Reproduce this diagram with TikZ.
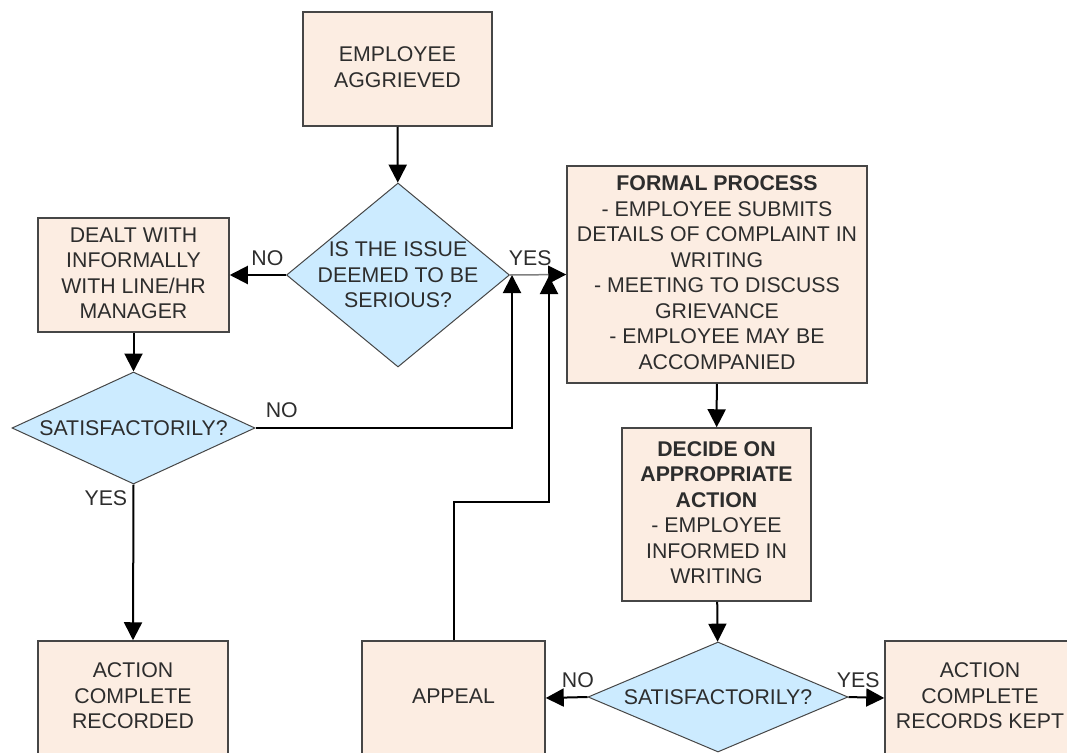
\documentclass[tikz,border=0pt]{standalone}
\usepackage{fontspec}
\setmainfont{Liberation Sans}
\usetikzlibrary{shapes.geometric,arrows.meta}

\definecolor{boxfill}{RGB}{252,237,226}
\definecolor{decfill}{RGB}{204,235,255}
\definecolor{edgegray}{RGB}{70,70,70}
\definecolor{txtgray}{RGB}{45,45,45}
\newcommand\chartfont{\fontsize{21.3}{25.5}\selectfont}

\begin{document}
\begin{tikzpicture}[x=1pt,y=-1pt,
    every node/.style={font=\chartfont,text=txtgray},
    box/.style={draw=edgegray,line width=1.5pt,fill=boxfill,align=center,inner sep=0pt,text depth=4pt},
    decision/.style={draw=edgegray,line width=1pt,fill=decfill,shape=diamond,inner sep=0pt},
    qtext/.style={align=center,inner sep=0pt},
    flow/.style={line width=2pt,-{Triangle[length=18pt,width=18pt]}},
    yesline/.style={line width=1.5pt,gray,-{Triangle[length=18pt,width=18pt,black]}},
    lbl/.style={text=txtgray}]
    \useasboundingbox (0,0) rectangle (1067,752);
    \clip (0,0) rectangle (1067,752);

    % Boxes and decisions
    \node[box, minimum width=189pt, minimum height=114pt] (aggr) at (397.5,69) {EMPLOYEE\\AGGRIEVED};
    \node[decision, minimum width=223pt, minimum height=184pt,
          label={[qtext]center:{IS THE ISSUE\\DEEMED TO BE\\SERIOUS?}}] (q1) at (398,275) {};
    \node[box, minimum width=191pt, minimum height=114pt] (dealt) at (133.5,275) {DEALT WITH\\INFORMALLY\\WITH LINE/HR\\MANAGER};
    \node[decision, minimum width=243pt, minimum height=112pt,
          label={[qtext]center:SATISFACTORILY?}] (q2) at (133.5,428) {};
    \node[box, minimum width=300pt, minimum height=217pt] (formal) at (717,274.5)
        {\textbf{FORMAL PROCESS}\\- EMPLOYEE SUBMITS\\DETAILS OF COMPLAINT IN\\WRITING\\- MEETING TO DISCUSS\\GRIEVANCE\\- EMPLOYEE MAY BE\\ACCOMPANIED};
    \node[box, minimum width=189pt, minimum height=173pt] (decide) at (716.5,514.5)
        {\textbf{DECIDE ON}\\\textbf{APPROPRIATE}\\\textbf{ACTION}\\- EMPLOYEE\\INFORMED IN\\WRITING};
    \node[decision, minimum width=260pt, minimum height=110pt,
          label={[qtext]center:SATISFACTORILY?}] (q3) at (718,697) {};
    \node[box, minimum width=190pt, minimum height=114pt] (done1) at (133,698) {ACTION\\COMPLETE\\RECORDED};
    \node[box, minimum width=183pt, minimum height=114pt] (appeal) at (453.5,698) {APPEAL};
    \node[box, minimum width=190pt, minimum height=114pt] (done2) at (980,698) {ACTION\\COMPLETE\\RECORDS KEPT};

    % Joins on the right of the first decision
    \coordinate (back1) at ([xshift=2pt]q1.east);
    \coordinate (back2) at (549,276);

    % Connectors
    \draw[flow] (aggr) -- (q1);
    \draw[flow] (q1) -- (dealt) node[lbl, pos=0.33, above=5pt] {NO};
    \draw[yesline] (q1.east) -- (formal.west) node[lbl, pos=0.36, above=5pt] {YES};
    \draw[flow] (dealt) -- (q2);
    \draw[flow] (q2.east) node[lbl, above right=6pt] {NO} -| (back1);
    \draw[flow] (q2.south) node[lbl, below left=2pt] {YES} -- (done1.north);
    \draw[flow] (formal) -- (decide);
    \draw[flow] (decide) -- (q3);
    \draw[flow] (q3.east) -- (done2.west) node[lbl, pos=0.27, above=5pt] {YES};
    \draw[flow] (q3.west) -- (appeal.east) node[lbl, pos=0.23, above=5pt] {NO};
    \draw[flow] (appeal.north) -- ++(0,-138) -| (back2);
\end{tikzpicture}
\end{document}
